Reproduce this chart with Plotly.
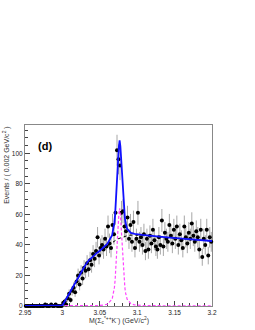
import numpy as np
import plotly.graph_objects as go

# ---- data ----
bin_centers = [round(2.951 + 0.002 * i, 3) for i in range(125)]
counts = [0, 0, 0, 0, 0, 0, 0, 0, 0, 0, 0, 0, 0, 1, 0, 0, 0, 1, 0, 0,
          1, 0, 0, 0, 0, 2, 3, 1, 5, 8, 4, 10, 12, 9, 16, 20, 14, 22, 18, 25,
          23, 28, 24, 30, 27, 34, 31, 36, 45, 33, 38, 40, 37, 44, 39, 52, 41, 38, 53, 47,
          61, 102, 96, 92, 61, 62, 52, 49, 58, 44, 53, 42, 55, 38, 44, 61, 42, 45, 40, 47,
          36, 44, 37, 46, 41, 50, 43, 39, 37, 45, 40, 56, 39, 48, 44, 42, 53, 46, 41, 50,
          44, 52, 40, 47, 43, 38, 52, 45, 41, 48, 44, 54, 46, 42, 49, 45, 37, 50, 32, 44,
          40, 50, 33, 45, 42]

fit_x = [2.95, 2.998, 3.000, 3.005, 3.010, 3.015, 3.020, 3.025, 3.030, 3.035,
         3.040, 3.045, 3.050, 3.055, 3.060, 3.0665, 3.0685, 3.0695, 3.0705, 3.0715,
         3.0725, 3.0735, 3.0745, 3.0755, 3.0765, 3.0775, 3.0785, 3.0795, 3.0805, 3.0815,
         3.0825, 3.0835, 3.0845, 3.0865, 3.0915, 3.0965, 3.1065, 3.12, 3.14, 3.16,
         3.18, 3.20]
fit_bkg = [0, 0, 0.3, 4.5, 9, 13.5, 18, 22, 26, 29.5,
           32, 34, 35.8, 37.6, 39.5, 41.8, 42.4, 42.7, 43.0, 43.3,
           43.6, 43.8, 44.0, 44.2, 44.4, 44.6, 44.8, 45.0, 45.2, 45.4,
           45.5, 45.7, 45.8, 46.0, 46.4, 46.5, 46.3, 45.7, 44.9, 44.1,
           43.3, 42.5]
fit_sig = [0.02, 0.05, 0.05, 0.07, 0.1, 0.12, 0.15, 0.18, 0.2, 0.22,
           0.25, 0.3, 0.35, 0.6, 1.2, 4.5, 8.5, 12, 17, 24,
           32, 42, 52, 60, 64, 60, 52, 42, 32, 24,
           17, 12, 8.5, 4.5, 1.5, 0.7, 0.3, 0.15, 0.08, 0.05,
           0.05, 0.05]

x_tickvals = [2.95, 3.0, 3.05, 3.1, 3.15, 3.2]
x_ticktext = ["2.95", "3", "3.05", "3.1", "3.15", "3.2"]
y_tickvals = [0, 20, 40, 60, 80, 100]
y_ticktext = ["0", "20", "40", "60", "80", "100"]

# ---- derived ----
errs = [float(np.sqrt(c)) for c in counts]
fit_total = [b + s for b, s in zip(fit_bkg, fit_sig)]

FONT = "Liberation Sans, Arial, sans-serif"

fig = go.Figure()
fig.add_trace(go.Scatter(
    x=bin_centers, y=counts, mode="markers",
    marker=dict(color="black", size=4, symbol="circle"),
    error_y=dict(type="data", array=errs, visible=True, color="#909090",
                 thickness=0.8, width=0),
    showlegend=False, cliponaxis=False))
fig.add_trace(go.Scatter(
    x=fit_x, y=fit_sig, mode="lines",
    line=dict(color="#ff44ff", width=1.2, dash="3px,2px"), showlegend=False,
    cliponaxis=False))
fig.add_trace(go.Scatter(
    x=fit_x, y=fit_bkg, mode="lines",
    line=dict(color="black", width=1, dash="dot"), showlegend=False))
fig.add_trace(go.Scatter(
    x=fit_x, y=fit_total, mode="lines",
    line=dict(color="#1010ff", width=1.8), showlegend=False,
    cliponaxis=False))

fig.update_layout(
    width=255, height=330,
    margin=dict(l=25, r=43, t=125, b=24),
    paper_bgcolor="white", plot_bgcolor="white",
    font=dict(family=FONT, size=7, color="black"),
    xaxis=dict(range=[2.95, 3.2], tickvals=x_tickvals, ticktext=x_ticktext,
               ticks="inside", ticklen=5, tickwidth=0.6, tickcolor="#444",
               showline=True, linecolor="#888", linewidth=1, mirror=True,
               showgrid=False, zeroline=False, layer="below traces",
               tickfont=dict(size=6.5, color="#222"),
               minor=dict(dtick=0.01, tick0=2.95, ticks="inside", ticklen=3,
                          tickcolor="#444", showgrid=False)),
    yaxis=dict(range=[0, 118.5], tickvals=y_tickvals, ticktext=y_ticktext,
               ticks="inside", ticklen=5, tickwidth=0.6, tickcolor="#444",
               showline=True, linecolor="#888", linewidth=1, mirror=True,
               showgrid=False, zeroline=False, layer="below traces",
               tickfont=dict(size=6.5, color="#222"),
               minor=dict(dtick=5, tick0=0, ticks="inside", ticklen=3,
                          tickcolor="#444", showgrid=False)),
    annotations=[
        dict(text="Events / ( 0.002 GeV/c<sup>2</sup> )", xref="paper", yref="paper",
             x=-0.1, y=1.0, xanchor="center", yanchor="top", textangle=-90,
             showarrow=False, font=dict(size=7, color="#333")),
        dict(text="M(Σ<sub>c</sub><sup>*++</sup>K<sup>-</sup>) (GeV/c<sup>2</sup>)",
             xref="paper", yref="paper", x=0.5, y=-0.045, xanchor="center",
             yanchor="top", showarrow=False, font=dict(size=7, color="#333")),
        dict(text="<b>(d)</b>", xref="paper", yref="paper", x=0.06, y=0.93,
             xanchor="left", yanchor="top", showarrow=False,
             font=dict(size=11, color="black")),
    ],
)

fig.write_html("out.html", config={"displayModeBar": False},
               post_script="document.body.style.margin='0';document.body.style.padding='0';")
